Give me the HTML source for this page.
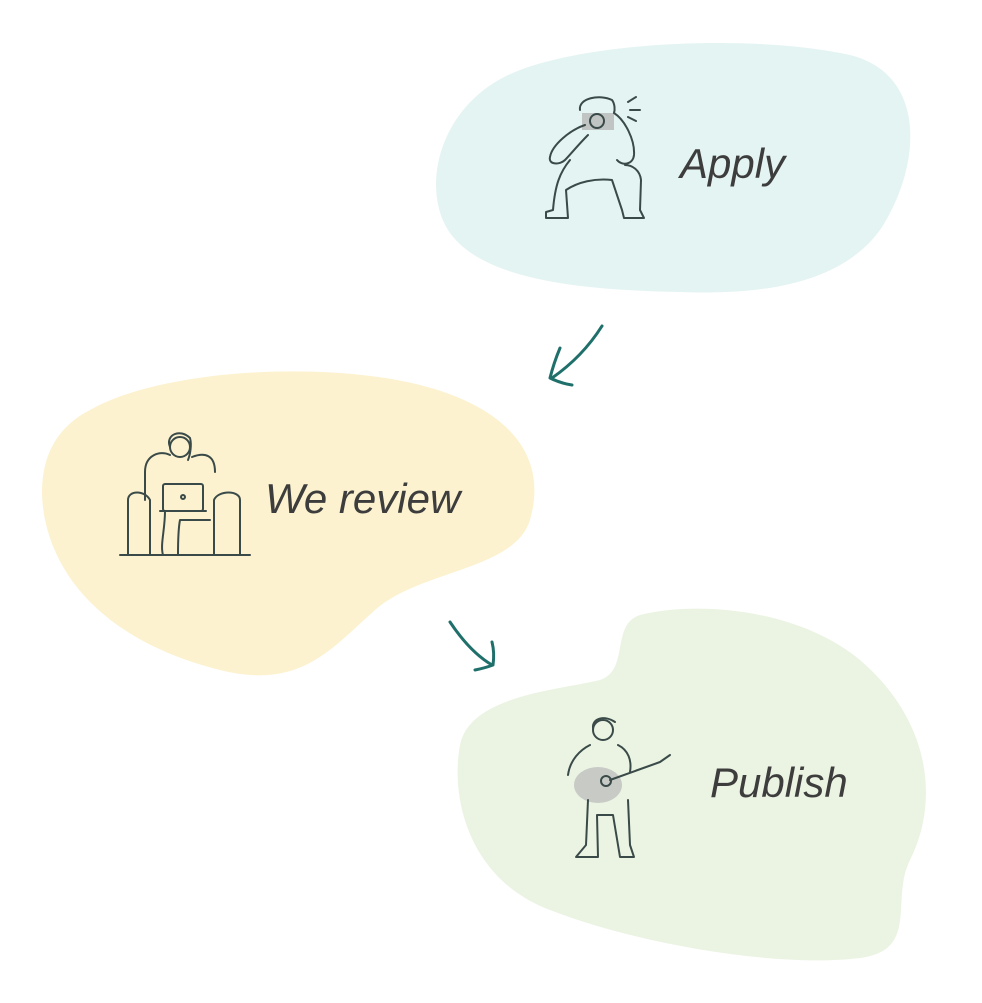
<!DOCTYPE html>
<html><head><meta charset="utf-8"><style>
html,body{margin:0;padding:0;background:#fff;}
svg{display:block}
text{font-family:"Liberation Sans",sans-serif;font-style:italic;fill:#3d3d3d;}
</style></head><body>
<svg width="982" height="1003" viewBox="0 0 982 1003" xmlns="http://www.w3.org/2000/svg">
<!-- blobs -->
<path d="M520 70 C600 40 760 35 850 55 C930 75 920 170 880 230 C840 285 760 295 680 292 C580 290 480 280 448 230 C420 185 440 100 520 70 Z" fill="#e4f4f2"/>
<path d="M90 410 C160 370 320 360 420 385 C500 405 550 450 530 520 C515 570 420 570 375 610 C330 650 300 690 220 670 C120 645 60 590 45 520 C35 470 50 430 90 410 Z" fill="#fcf2cf"/>
<path d="M640 615 C700 600 800 610 860 660 C930 720 940 800 910 860 C890 900 920 950 860 958 C780 968 640 945 550 910 C470 880 450 800 460 745 C470 695 560 690 600 680 C630 670 610 625 640 615 Z" fill="#ebf4e3"/>
<!-- arrows -->
<g fill="none" stroke="#1f6f6b" stroke-width="3" stroke-linecap="round" stroke-linejoin="round">
<path d="M602 326 C590 345 575 362 552 378"/>
<path d="M560 348 C555 360 552 370 550 378 C558 382 565 384 572 385"/>
<path d="M450 622 C462 640 475 655 492 665"/>
<path d="M492 642 C494 650 494 658 493 665 C485 668 480 669 475 670"/>
</g>
<!-- figures -->
<g fill="none" stroke="#3a4a48" stroke-width="2" stroke-linecap="round" stroke-linejoin="round">
<!-- photographer -->
<rect x="582" y="113" width="32" height="17" fill="#c0c4c2" stroke="none"/>
<circle cx="597" cy="121" r="7"/>
<path d="M580 110 C578 98 600 94 612 100 C615 104 615 110 614 113"/>
<path d="M585 125 C570 130 552 145 550 157 C548 165 560 165 565 160 C570 155 578 145 588 135"/>
<path d="M614 113 C625 120 635 140 634 155 C633 165 622 166 617 160"/>
<path d="M570 160 C560 172 555 185 553 210 L546 212 L546 218 L568 218 L566 190 C578 182 595 178 612 180 L622 210 L624 218 L644 218 L640 210 L641 180 C640 170 632 165 625 165"/>
<path d="M628 102 L636 97 M630 110 L640 110 M628 117 L636 121"/>
<!-- reader -->
<circle cx="180" cy="447" r="10"/>
<path d="M170 447 C165 435 180 428 190 438 C192 445 190 455 188 460"/>
<path d="M145 500 L145 472 C145 455 160 450 170 455 M215 472 C215 455 205 452 192 457"/>
<path d="M128 555 L128 500 C128 490 145 490 150 500 L150 555 M240 555 L240 500 C240 490 218 490 214 500 L214 555"/>
<path d="M120 555 L250 555"/>
<rect x="163" y="484" width="40" height="27" rx="2"/>
<path d="M160 511 L206 511"/>
<path d="M165 511 C165 530 160 545 163 555 L178 555 C178 545 178 530 180 520 L210 520"/>
<circle cx="183" cy="497" r="2"/>
<!-- guitarist -->
<circle cx="603" cy="730" r="10"/>
<path d="M593 728 C592 718 605 715 615 722"/>
<path d="M590 745 C580 750 570 760 568 775 M618 745 C628 750 632 760 630 772"/>
<ellipse cx="598" cy="785" rx="24" ry="18" fill="#c8cac6" stroke="none"/>
<circle cx="606" cy="781" r="5"/>
<path d="M610 780 L660 762 L670 755"/>
<path d="M588 800 L586 845 L576 857 L598 857 L597 815 L613 815 L618 845 L620 857 L634 857 L630 845 L628 800"/>
</g>
<!-- labels -->
<text x="680" y="178" font-size="42">Apply</text>
<text x="265" y="513" font-size="42">We review</text>
<text x="710" y="797" font-size="42">Publish</text>
</svg>
</body></html>
